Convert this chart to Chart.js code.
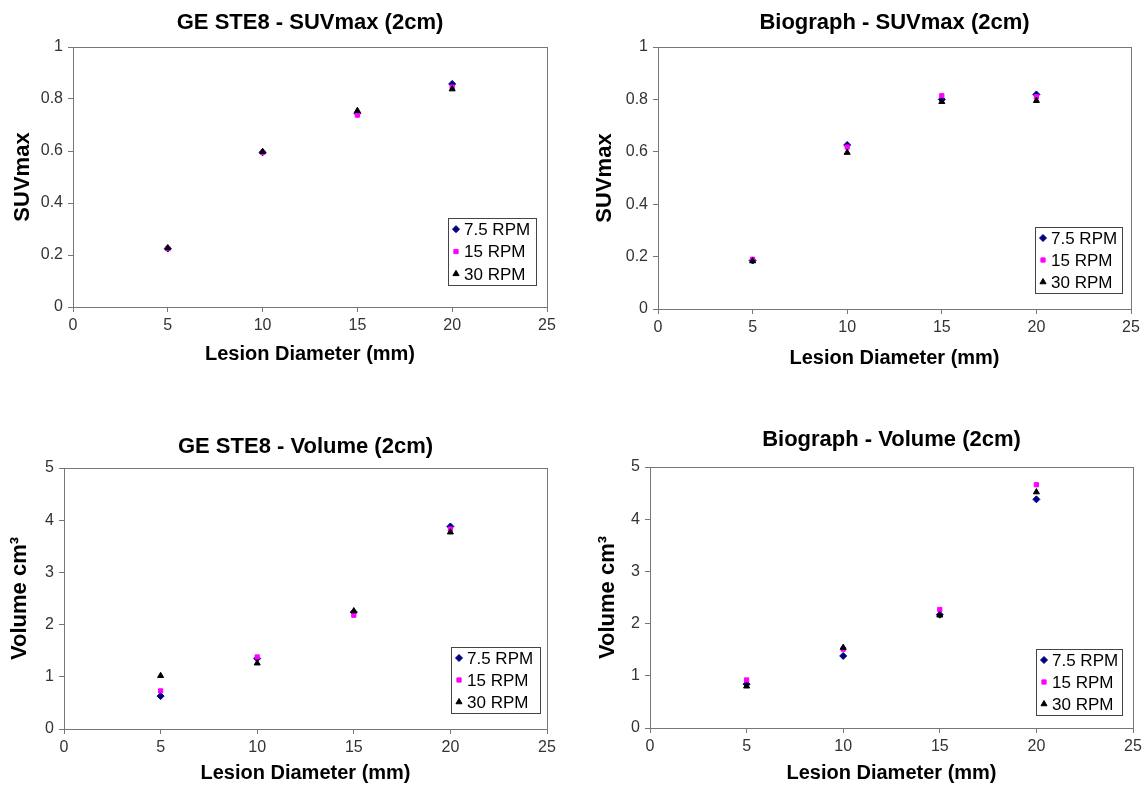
<!DOCTYPE html>
<html>
<head>
<meta charset="utf-8">
<title>SUVmax and Volume vs Lesion Diameter</title>
<script src="https://cdn.jsdelivr.net/npm/chart.js@4.4.0/dist/chart.umd.min.js"></script>
<style>
  html, body { margin: 0; padding: 0; background: #fff; overflow: hidden; }
  canvas { position: absolute; }
</style>
</head>
<body>
<canvas id="geSuv" width="573" height="392" style="left:0;top:0"></canvas>
<canvas id="bioSuv" width="573" height="392" style="left:573px;top:0"></canvas>
<canvas id="geVol" width="573" height="393" style="left:0;top:392px"></canvas>
<canvas id="bioVol" width="573" height="393" style="left:573px;top:392px"></canvas>
<script>
"use strict";

const diameters = [5, 10, 15, 20];
const seriesNames = ["7.5 RPM", "15 RPM", "30 RPM"];
const xTicks = [0, 5, 10, 15, 20, 25];
const suvTicks = [0, 0.2, 0.4, 0.6, 0.8, 1];
const volumeTicks = [0, 1, 2, 3, 4, 5];

// GE STE8 - SUVmax
const geSuv75 = [0.225, 0.595, 0.745, 0.858];
const geSuv15 = [0.225, 0.595, 0.738, 0.846];
const geSuv30 = [0.227, 0.597, 0.755, 0.838];

// Biograph - SUVmax
const bioSuv75 = [0.185, 0.626, 0.8, 0.819];
const bioSuv15 = [0.19, 0.618, 0.814, 0.81];
const bioSuv30 = [0.183, 0.597, 0.791, 0.795];

// GE STE8 - Volume
const geVol75 = [0.63, 1.35, 2.24, 3.88];
const geVol15 = [0.73, 1.38, 2.18, 3.83];
const geVol30 = [1.02, 1.26, 2.26, 3.77];

// Biograph - Volume
const bioVol75 = [0.84, 1.38, 2.17, 4.38];
const bioVol15 = [0.92, 1.51, 2.27, 4.66];
const bioVol30 = [0.8, 1.54, 2.16, 4.52];

const FONT = "'Liberation Sans', Arial, sans-serif";
const AXIS_COLOR = "#777";

// box around the plot area, like excel
const plotFrame = {
  id: "plotFrame",
  beforeDatasetsDraw(chart) {
    const { ctx, chartArea } = chart;
    ctx.save();
    ctx.strokeStyle = AXIS_COLOR;
    ctx.lineWidth = 1;
    ctx.strokeRect(Math.round(chartArea.left) + 0.5, Math.round(chartArea.top) + 0.5,
      Math.round(chartArea.width), Math.round(chartArea.height));
    ctx.restore();
  },
};

// legend sitting inside the plot, bottom right
const insideLegend = {
  id: "insideLegend",
  afterDraw(chart, args, opts) {
    const { ctx, chartArea } = chart;
    const w = opts.width;
    const h = opts.height;
    const x = Math.round(chartArea.right - opts.right - w);
    const y = Math.round(chartArea.bottom - opts.bottom - h);
    ctx.save();
    ctx.fillStyle = "#fff";
    ctx.fillRect(x, y, w, h);
    ctx.strokeStyle = "#444";
    ctx.lineWidth = 1;
    ctx.strokeRect(x + 0.5, y + 0.5, w, h);
    ctx.font = "17px " + FONT;
    ctx.textBaseline = "middle";
    const rowH = h / 3;
    chart.data.datasets.forEach((ds, i) => {
      const cy = y + rowH * (i + 0.5);
      ctx.fillStyle = ds.backgroundColor;
      ctx.strokeStyle = ds.borderColor;
      Chart.helpers.drawPoint(ctx, { pointStyle: ds.pointStyle, radius: ds.pointRadius, borderWidth: 1 }, x + 8, cy);
      ctx.fillStyle = "#000";
      ctx.fillText(ds.label, x + 16, cy + 1);
    });
    ctx.restore();
  },
};

function makeDatasets(s75, s15, s30) {
  const styles = [
    { color: "#000080", pointStyle: "rectRot", radius: 3.5, order: 2 },
    { color: "#FF00FF", pointStyle: "rect", radius: 3, order: 1 },
    { color: "#000000", pointStyle: "triangle", radius: 3.5, order: 0 },
  ];
  return [s75, s15, s30].map((values, i) => ({
    label: seriesNames[i],
    data: diameters.map((d, j) => ({ x: d, y: values[j] })),
    backgroundColor: styles[i].color,
    borderColor: styles[i].color,
    borderWidth: 1,
    pointStyle: styles[i].pointStyle,
    pointRadius: styles[i].radius,
    order: styles[i].order,
  }));
}

function makeChart(id, c) {
  return new Chart(document.getElementById(id), {
    type: "scatter",
    data: { datasets: makeDatasets(c.s75, c.s15, c.s30) },
    options: {
      responsive: false,
      animation: false,
      layout: { padding: { left: 0, right: c.padRight, top: 0, bottom: 0 } },
      scales: {
        x: {
          type: "linear",
          min: 0,
          max: 25,
          afterBuildTicks: (scale) => { scale.ticks = xTicks.map((v) => ({ value: v })); },
          afterFit: (scale) => { scale.height = c.xHeight; },
          grid: { drawOnChartArea: false, drawTicks: true, tickLength: 5, color: AXIS_COLOR },
          border: { color: AXIS_COLOR },
          ticks: { font: { size: 16, family: FONT }, color: "#333", padding: 4 },
          title: {
            display: true,
            text: "Lesion Diameter (mm)",
            font: { size: 20, weight: "bold", family: FONT },
            color: "#000",
            padding: { top: 0, bottom: c.xTitlePad },
          },
        },
        y: {
          type: "linear",
          min: 0,
          max: c.yMax,
          afterBuildTicks: (scale) => { scale.ticks = c.yTicks.map((v) => ({ value: v })); },
          afterFit: (scale) => { scale.width = c.yWidth; },
          grid: { drawOnChartArea: false, drawTicks: true, tickLength: 5, color: AXIS_COLOR },
          border: { color: AXIS_COLOR },
          ticks: {
            font: { size: 16, family: FONT },
            color: "#333",
            padding: 5,
            callback: (v) => String(+v.toFixed(1)),
          },
          title: {
            display: true,
            text: c.yTitle,
            font: { size: 22, weight: "bold", family: FONT },
            color: "#000",
            padding: { top: c.yTitlePad, bottom: 0 },
          },
        },
      },
      plugins: {
        legend: { display: false },
        tooltip: { enabled: false },
        title: {
          display: true,
          text: c.title,
          fullSize: false,
          color: "#000",
          font: { size: 22, weight: "bold", family: FONT },
          padding: { top: c.titleTop, bottom: c.titleBottom },
        },
        insideLegend: c.legend,
      },
    },
    plugins: [plotFrame, insideLegend],
  });
}

makeChart("geSuv", {
  title: "GE STE8 - SUVmax (2cm)", yTitle: "SUVmax", yTicks: suvTicks, yMax: 1,
  s75: geSuv75, s15: geSuv15, s30: geSuv30,
  padRight: 26, yWidth: 73, xHeight: 85, xTitlePad: 26, yTitlePad: 9.8,
  titleTop: 9.8, titleBottom: 10.8,
  legend: { width: 88, height: 67, right: 11, bottom: 22 },
});

makeChart("bioSuv", {
  title: "Biograph - SUVmax (2cm)", yTitle: "SUVmax", yTicks: suvTicks, yMax: 1,
  s75: bioSuv75, s15: bioSuv15, s30: bioSuv30,
  padRight: 15, yWidth: 85, xHeight: 83, xTitlePad: 22, yTitlePad: 18.8,
  titleTop: 9.8, titleBottom: 10.8,
  legend: { width: 87, height: 66, right: 9, bottom: 16 },
});

makeChart("geVol", {
  title: "GE STE8 - Volume (2cm)", yTitle: "Volume cm\u00B3", yTicks: volumeTicks, yMax: 5,
  s75: geVol75, s15: geVol15, s30: geVol30,
  padRight: 26, yWidth: 64, xHeight: 56, xTitlePad: 0, yTitlePad: 6.8,
  titleTop: 41.8, titleBottom: 7.8,
  legend: { width: 89, height: 66, right: 7, bottom: 16 },
});

makeChart("bioVol", {
  title: "Biograph - Volume (2cm)", yTitle: "Volume cm\u00B3", yTicks: volumeTicks, yMax: 5,
  s75: bioVol75, s15: bioVol15, s30: bioVol30,
  padRight: 13, yWidth: 77, xHeight: 57, xTitlePad: 0, yTitlePad: 21.8,
  titleTop: 34.8, titleBottom: 13.8,
  legend: { width: 86, height: 66, right: 11, bottom: 13 },
});
</script>
</body>
</html>
